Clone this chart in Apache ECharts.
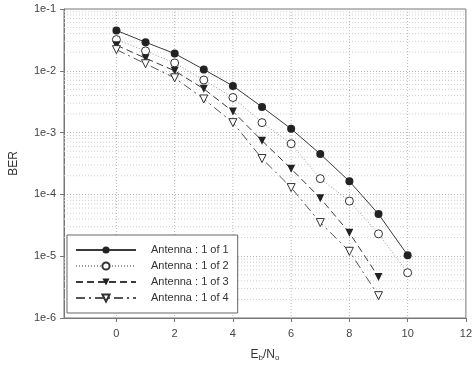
<!DOCTYPE html>
<html><head><meta charset="utf-8">
<script src="https://cdn.jsdelivr.net/npm/echarts@6/dist/echarts.min.js"></script>
<style>html,body{margin:0;padding:0;background:#fff}#c{width:475px;height:372px}</style>
</head><body><div id="c"></div>
<script>
const xs1 = [0,1,2,3,4,5,6,7,8,9,10];
const xs3 = [0,1,2,3,4,5,6,7,8,9];
const ant1 = [0.045,0.029,0.019,0.0105,0.0057,0.0026,0.00115,0.00045,0.000163,4.8e-5,1.04e-5];
const ant2 = [0.032,0.021,0.0134,0.0071,0.0037,0.00145,0.00066,0.00018,7.8e-5,2.3e-5,5.4e-6];
const ant3 = [0.026,0.016,0.0100,0.0051,0.0022,0.00074,0.00026,8.7e-5,2.4e-5,4.6e-6];
const ant4 = [0.022,0.013,0.0077,0.0035,0.00145,0.00038,0.000129,3.5e-5,1.2e-5,2.3e-6];
const names = ['Antenna : 1 of 1','Antenna : 1 of 2','Antenna : 1 of 3','Antenna : 1 of 4'];
const xTicks = [0,2,4,6,8,10,12];
const xGrid = [0,2,4,6,8,10];
const decades = [-6,-5,-4,-3,-2];
const minorMult = [2,3,4,5,6,7,8,9];

const pair = (xs, ys) => xs.map((x,i)=>[x, ys[i]]);
// grid line specs: [x, y, kind]  kind 0 = horizontal minor, 1 = vertical
const gridData = [];
decades.forEach(d => minorMult.forEach(m => gridData.push([0, m*Math.pow(10,d), 0])));
xGrid.forEach(v => gridData.push([v, 1e-3, 1]));

const font = 'Liberation Sans, Arial, sans-serif';
const dark = '#3a3a3a';
const chart = echarts.init(document.getElementById('c'), null, {renderer:'canvas'});
chart.setOption({
  animation:false,
  textStyle:{fontFamily:font},
  grid:{left:62,right:4,top:9,bottom:54,show:true,borderColor:'#777',borderWidth:1,backgroundColor:'#fff'},
  legend:{
    data:names, orient:'vertical', left:67, top:235,
    padding:[9,9,9,8], itemGap:4, itemWidth:60, itemHeight:9,
    borderColor:'#666', borderWidth:1, backgroundColor:'#fff',
    textStyle:{fontSize:11,color:'#333',fontFamily:font,lineHeight:12,padding:[0,0,0,10]}
  },
  xAxis:{
    type:'value', min:-1.8, max:12,
    name:'{e|E}{s|b}{e|/N}{s|o}', nameLocation:'middle', nameGap:30,
    nameTextStyle:{rich:{e:{fontSize:12,color:'#333',fontFamily:font},s:{fontSize:8,color:'#333',fontFamily:font,verticalAlign:'bottom',padding:[6,0,0,0]}}},
    axisLine:{show:true,onZero:false,lineStyle:{color:'#777'}},
    axisTick:{show:true,inside:false,length:4,customValues:xTicks,lineStyle:{color:'#777'}},
    axisLabel:{customValues:xTicks,fontSize:11,color:'#444',margin:10,fontFamily:font},
    splitLine:{show:false}
  },
  yAxis:{
    type:'log', min:1e-6, max:1e-1, logBase:10,
    name:'BER', nameLocation:'middle', nameGap:44,
    nameTextStyle:{fontSize:12,color:'#333',fontFamily:font},
    axisLine:{show:true,onZero:false,lineStyle:{color:'#777'}},
    axisTick:{show:true,inside:false,length:4,lineStyle:{color:'#777'}},
    axisLabel:{fontSize:11,color:'#444',margin:8,fontFamily:font,
      formatter:v=>'1e'+Math.round(Math.log10(v))},
    splitLine:{show:true,lineStyle:{color:'#b5b5b5',type:[1,2],width:1}}
  },
  series:[
    {type:'custom', name:'grid', silent:true, z:1, data:gridData,
     renderItem:(params, api) => {
       const cs = params.coordSys;
       const p = api.coord([api.value(0), api.value(1)]);
       const kind = api.value(2);
       const shape = kind === 0
         ? {x1:cs.x, y1:p[1], x2:cs.x+cs.width, y2:p[1]}
         : {x1:p[0], y1:cs.y, x2:p[0], y2:cs.y+cs.height};
       return {type:'line', shape, style:{stroke: kind===0 ? '#cfcfcf' : '#b5b5b5', lineWidth:1, lineDash:[1,2]}};
     }},
    {name:names[0], type:'line', data:pair(xs1,ant1), symbol:'circle', symbolSize:8, z:3,
     itemStyle:{color:'#222'}, lineStyle:{color:dark,width:1,type:'solid'}},
    {name:names[1], type:'line', data:pair(xs1,ant2), symbol:'circle', symbolSize:8, z:3,
     itemStyle:{color:'#fff',borderColor:'#333',borderWidth:1}, lineStyle:{color:'#999',width:1,type:[1,2]}},
    {name:names[2], type:'line', data:pair(xs3,ant3), symbol:'triangle', symbolRotate:180, symbolSize:8, z:3,
     itemStyle:{color:'#222'}, lineStyle:{color:dark,width:1,type:[7,4]}},
    {name:names[3], type:'line', data:pair(xs3,ant4), symbol:'triangle', symbolRotate:180, symbolSize:8, z:3,
     itemStyle:{color:'#fff',borderColor:'#333',borderWidth:1}, lineStyle:{color:'#555',width:1,type:[9,4,2,4]}}
  ]
});
</script></body></html>
